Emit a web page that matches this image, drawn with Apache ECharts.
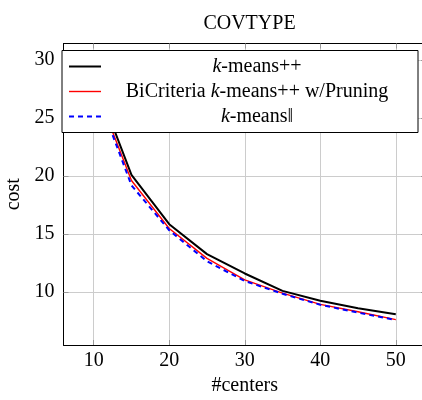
<!DOCTYPE html>
<html>
<head>
<meta charset="utf-8">
<script src="https://cdn.jsdelivr.net/npm/echarts@6/dist/echarts.min.js"></script>
<style>html,body{margin:0;padding:0;background:#fff;}#c{width:422px;height:400px;}</style>
</head>
<body>
<div id="c"></div>
<script>
var centers = [10, 15, 20, 25, 30, 35, 40, 45, 50];
var kmeansPP = [28.6, 20.1, 15.85, 13.27, 11.6, 10.1, 9.25, 8.6, 8.08];
var biCriteria = [28.0, 19.62, 15.48, 12.9, 11.05, 9.9, 8.94, 8.3, 7.62];
var kmeansPar = [27.9, 19.2, 15.33, 12.65, 10.95, 9.85, 8.9, 8.22, 7.58];
var xTicks = [10, 20, 30, 40, 50];
var yTicks = [10, 15, 20, 25, 30];
var seriesNames = ['k-means++', 'BiCriteria k-means++ w/Pruning', 'k-means\u2016'];

function pairs(ys) { return centers.map(function (x, i) { return [x, ys[i]]; }); }

var FONT = '"Liberation Serif", "Times New Roman", serif';
var chart = echarts.init(document.getElementById('c'), null, {renderer: 'canvas'});
var gridColor = '#cccccc';
var tickColor = '#999999';

function legendFormatter(name) {
  if (name === seriesNames[0]) return '{i|k}{t|-means++}';
  if (name === seriesNames[1]) return '{t|BiCriteria }{i|k}{t|-means++ w/Pruning}';
  return '{i|k}{t|-means\u2016}';
}

chart.setOption({
  animation: false,
  backgroundColor: '#fff',
  title: {
    text: 'COVTYPE',
    left: 244.5,
    top: 9,
    textAlign: 'center',
    textStyle: {fontFamily: FONT, fontSize: 20, fontWeight: 'normal', color: '#000'}
  },
  legend: {
    orient: 'vertical',
    left: 62,
    top: 50.5,
    z: 20,
    padding: [6, 10, 6, 6],
    itemGap: 5,
    itemWidth: 32,
    itemHeight: 14,
    backgroundColor: '#fff',
    borderColor: '#000',
    borderWidth: 1,
    borderRadius: 0,
    itemStyle: {opacity: 0},
    lineStyle: {width: 'inherit', color: 'inherit', type: 'inherit'},
    data: seriesNames,
    formatter: legendFormatter,
    textStyle: {
      fontFamily: FONT, fontSize: 20, color: '#000', lineHeight: 20, width: 302,
      rich: {
        i: {fontFamily: FONT, fontSize: 20, fontStyle: 'italic', align: 'center', color: '#000'},
        t: {fontFamily: FONT, fontSize: 20, align: 'center', color: '#000'}
      }
    }
  },
  grid: {left: 63.5, top: 43.5, width: 362.5, height: 301.5, containLabel: false, outerBoundsMode: 'none'},
  xAxis: [{
    type: 'value', min: 6, max: 54, position: 'bottom',
    name: '#centers', nameLocation: 'middle', nameGap: 31,
    nameTextStyle: {fontFamily: FONT, fontSize: 20, color: '#000'},
    axisLine: {show: true, onZero: false, lineStyle: {color: '#000', width: 1}},
    axisTick: {show: true, inside: true, length: 5, customValues: xTicks, lineStyle: {color: tickColor}},
    axisLabel: {customValues: xTicks, margin: 6, fontFamily: FONT, fontSize: 20, color: '#000'},
    splitLine: {show: true, lineStyle: {color: gridColor, width: 1}}
  }, {
    type: 'value', min: 6, max: 54, position: 'top',
    axisLine: {show: true, onZero: false, lineStyle: {color: '#000', width: 1}},
    axisTick: {show: true, inside: true, length: 5, customValues: xTicks, lineStyle: {color: tickColor}},
    axisLabel: {show: false},
    splitLine: {show: false}
  }],
  yAxis: [{
    type: 'value', min: 5.43, max: 31.44, position: 'left',
    name: 'cost', nameLocation: 'middle', nameGap: 40, nameRotate: 90,
    nameTextStyle: {fontFamily: FONT, fontSize: 20, color: '#000'},
    axisLine: {show: true, onZero: false, lineStyle: {color: '#000', width: 1}},
    axisTick: {show: true, inside: true, length: 5, customValues: yTicks, lineStyle: {color: tickColor}},
    axisLabel: {customValues: yTicks, margin: 9, fontFamily: FONT, fontSize: 20, color: '#000'},
    splitLine: {show: true, lineStyle: {color: gridColor, width: 1}}
  }, {
    type: 'value', min: 5.43, max: 31.44, position: 'right',
    axisLine: {show: true, onZero: false, lineStyle: {color: '#000', width: 1}},
    axisTick: {show: true, inside: true, length: 5, customValues: yTicks, lineStyle: {color: tickColor}},
    axisLabel: {show: false},
    splitLine: {show: false}
  }],
  series: [{
    name: seriesNames[0], type: 'line', data: pairs(kmeansPP), symbol: 'none', z: 2,
    lineStyle: {color: '#000', width: 2}, itemStyle: {color: '#000'}
  }, {
    name: seriesNames[1], type: 'line', data: pairs(biCriteria), symbol: 'none', z: 2,
    lineStyle: {color: '#ff0000', width: 1.4}, itemStyle: {color: '#ff0000'}
  }, {
    name: seriesNames[2], type: 'line', data: pairs(kmeansPar), symbol: 'none', z: 2,
    lineStyle: {color: '#0000ff', width: 2, type: [5, 4]}, itemStyle: {color: '#0000ff'}
  }]
});
</script>
</body>
</html>
